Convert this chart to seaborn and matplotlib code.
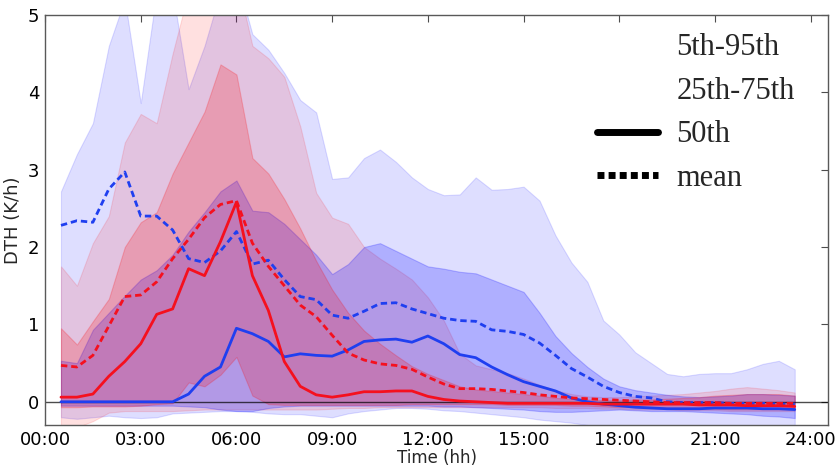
import numpy as np
import pandas as pd
import matplotlib
matplotlib.use("Agg")
import matplotlib.pyplot as plt
import seaborn as sns
from matplotlib.lines import Line2D
from matplotlib.patches import Patch

# half-hourly profile, 00:30 .. 23:30
hours = np.arange(0.5, 23.75, 0.5)
tick_hours = [0, 3, 6, 9, 12, 15, 18, 21, 24]
tick_labels = ["00:00", "03:00", "06:00", "09:00", "12:00", "15:00", "18:00", "21:00", "24:00"]

# blue case
blue_p95 = [2.72, 3.2, 3.6, 4.6, 5.2, 3.86, 5.3, 5.3, 4.04, 4.6,
            5.3, 5.5, 4.75, 4.55, 4.25, 3.9, 3.74, 2.88, 2.9, 3.15,
            3.26, 3.1, 2.9, 2.75, 2.67, 2.68, 2.9, 2.74, 2.75, 2.78,
            2.6, 2.15, 1.8, 1.55, 1.05, 0.87, 0.64, 0.5, 0.36, 0.33,
            0.36, 0.37, 0.37, 0.42, 0.49, 0.53, 0.42]
blue_p75 = [0.53, 0.5, 0.93, 1.15, 1.37, 1.58, 1.7, 1.9, 2.2, 2.45,
            2.72, 2.86, 2.47, 2.45, 2.3, 2.1, 1.9, 1.65, 1.78, 2.0,
            2.05, 1.95, 1.85, 1.75, 1.72, 1.68, 1.66, 1.58, 1.5, 1.42,
            1.15, 0.85, 0.63, 0.45, 0.3, 0.2, 0.15, 0.12, 0.09, 0.07,
            0.06, 0.07, 0.08, 0.1, 0.1, 0.09, 0.08]
blue_p25 = [-0.05, -0.05, -0.05, -0.05, -0.05, -0.05, -0.05, -0.05, -0.06, -0.07,
            -0.1, -0.12, -0.12, -0.08, -0.06, -0.05, -0.05, -0.05, -0.05, -0.05,
            -0.05, -0.05, -0.05, -0.05, -0.06, -0.06, -0.07, -0.08, -0.09, -0.1,
            -0.12, -0.13, -0.13, -0.12, -0.11, -0.1, -0.11, -0.12, -0.12, -0.12,
            -0.13, -0.14, -0.15, -0.16, -0.18, -0.19, -0.21]
blue_p5 = [-0.2, -0.22, -0.2, -0.18, -0.2, -0.21, -0.2, -0.15, -0.14, -0.13,
           -0.12, -0.12, -0.13, -0.15, -0.16, -0.16, -0.18, -0.2, -0.15, -0.12,
           -0.1, -0.08, -0.08, -0.09, -0.11, -0.12, -0.14, -0.16, -0.18, -0.2,
           -0.23, -0.25, -0.27, -0.3, -0.33, -0.35, -0.36, -0.36, -0.36, -0.36,
           -0.36, -0.36, -0.36, -0.36, -0.36, -0.36, -0.36]
blue_p50 = [0.0, 0.0, 0.0, 0.0, 0.0, 0.0, 0.0, 0.0, 0.1, 0.33,
            0.45, 0.95, 0.88, 0.78, 0.58, 0.62, 0.6, 0.59, 0.67, 0.78,
            0.8, 0.81, 0.77, 0.85, 0.75, 0.61, 0.57, 0.45, 0.35, 0.26,
            0.2, 0.14, 0.05, 0.0, -0.03, -0.05, -0.07, -0.08, -0.09, -0.09,
            -0.09, -0.08, -0.08, -0.08, -0.09, -0.09, -0.1]
blue_mean = [2.28, 2.34, 2.32, 2.75, 2.97, 2.4, 2.4, 2.22, 1.85, 1.8,
             1.95, 2.2, 1.78, 1.83, 1.58, 1.36, 1.32, 1.12, 1.08, 1.17,
             1.27, 1.28, 1.2, 1.14, 1.08, 1.05, 1.04, 0.93, 0.91, 0.87,
             0.76, 0.6, 0.43, 0.32, 0.2, 0.12, 0.07, 0.05, 0.0, -0.01,
             -0.01, -0.01, -0.02, -0.02, -0.02, -0.03, -0.03]

# red case
red_p95 = [1.75, 1.5, 2.05, 2.4, 3.35, 3.72, 3.6, 4.5, 5.3, 5.5,
           5.5, 5.5, 4.6, 4.44, 4.2, 3.56, 2.7, 2.38, 2.3, 2.0,
           1.85, 1.72, 1.58, 1.35, 1.05, 0.62, 0.47, 0.42, 0.37, 0.3,
           0.22, 0.15, 0.1, 0.07, 0.06, 0.06, 0.07, 0.08, 0.09, 0.1,
           0.12, 0.14, 0.17, 0.19, 0.17, 0.15, 0.12]
red_p75 = [0.95, 0.74, 1.04, 1.33, 2.0, 2.32, 2.45, 2.95, 3.35, 3.75,
           4.36, 4.23, 3.15, 2.95, 2.62, 2.24, 1.82, 1.45, 1.15, 0.92,
           0.75, 0.6, 0.46, 0.36, 0.28, 0.2, 0.16, 0.14, 0.12, 0.1,
           0.08, 0.05, 0.04, 0.03, 0.02, 0.02, 0.03, 0.03, 0.04, 0.05,
           0.06, 0.08, 0.09, 0.1, 0.1, 0.1, 0.08]
red_p25 = [-0.07, -0.07, -0.06, -0.06, -0.06, -0.05, -0.03, -0.02, 0.25, 0.2,
           0.35, 0.58, 0.08, -0.03, -0.04, -0.04, -0.04, -0.04, -0.04, -0.04,
           -0.04, -0.04, -0.03, -0.03, -0.03, -0.03, -0.03, -0.03, -0.04, -0.04,
           -0.04, -0.04, -0.05, -0.05, -0.06, -0.07, -0.07, -0.08, -0.08, -0.08,
           -0.09, -0.09, -0.1, -0.1, -0.1, -0.1, -0.1]
red_p5 = [-0.35, -0.33, -0.25, -0.14, -0.12, -0.12, -0.12, -0.12, -0.11, -0.1,
          -0.1, -0.1, -0.1, -0.1, -0.1, -0.1, -0.1, -0.09, -0.08, -0.08,
          -0.07, -0.07, -0.07, -0.07, -0.07, -0.07, -0.07, -0.07, -0.07, -0.07,
          -0.07, -0.08, -0.08, -0.08, -0.09, -0.09, -0.1, -0.1, -0.1, -0.11,
          -0.11, -0.11, -0.12, -0.12, -0.12, -0.12, -0.12]
red_p50 = [0.06, 0.06, 0.1, 0.33, 0.52, 0.75, 1.13, 1.2, 1.72, 1.63,
           2.07, 2.58, 1.63, 1.18, 0.52, 0.2, 0.09, 0.06, 0.09, 0.13,
           0.13, 0.14, 0.14, 0.07, 0.03, 0.01, 0.0, -0.01, -0.02, -0.02,
           -0.02, -0.02, -0.02, -0.02, -0.03, -0.03, -0.03, -0.03, -0.03, -0.03,
           -0.04, -0.04, -0.04, -0.05, -0.05, -0.05, -0.06]
red_mean = [0.47, 0.45, 0.6, 0.98, 1.36, 1.38, 1.55, 1.85, 2.1, 2.38,
            2.55, 2.6, 2.05, 1.75, 1.5, 1.25, 1.1, 0.86, 0.63, 0.54,
            0.49, 0.47, 0.42, 0.32, 0.23, 0.17, 0.17, 0.16, 0.14, 0.12,
            0.09, 0.07, 0.05, 0.04, 0.03, 0.02, 0.01, 0.0, -0.01, -0.01,
            -0.01, -0.01, -0.02, -0.02, -0.02, -0.02, -0.02]

df = pd.DataFrame({"hour": hours,
                   "blue_p50": blue_p50, "blue_mean": blue_mean,
                   "red_p50": red_p50, "red_mean": red_mean})

sns.set_style("white")
plt.rcParams["font.family"] = ["DejaVu Sans"]

blue = "#1f3ff0"
red = "#f5101e"
dash = (0, (2.3, 1.4))

fig, ax = plt.subplots(figsize=(8.4, 4.65), dpi=100)
fig.subplots_adjust(left=0.0536, right=0.986, top=0.968, bottom=0.086)

# percentile bands
ax.fill_between(hours, blue_p5, blue_p95, color="#0000ff", alpha=0.13, lw=0.8)
ax.fill_between(hours, red_p5, red_p95, color="#ff0000", alpha=0.12, lw=0.8)
ax.fill_between(hours, blue_p25, blue_p75, color="#0000ff", alpha=0.21, lw=0.8)
ax.fill_between(hours, red_p25, red_p75, color="#ff0000", alpha=0.2, lw=0.8)

ax.axhline(0, color="k", lw=1, alpha=0.7)

sns.lineplot(data=df, x="hour", y="blue_p50", ax=ax, color=blue, lw=2, legend=False)
sns.lineplot(data=df, x="hour", y="blue_mean", ax=ax, color=blue, lw=2, linestyle=dash, legend=False)
sns.lineplot(data=df, x="hour", y="red_mean", ax=ax, color=red, lw=2, linestyle=dash, legend=False)
sns.lineplot(data=df, x="hour", y="red_p50", ax=ax, color=red, lw=2, legend=False)

ax.set_xlim(0, 24.55)
ax.set_ylim(-0.3, 5)
ax.set_xticks(tick_hours)
ax.set_xticklabels(tick_labels)
ax.set_yticks([0, 1, 2, 3, 4, 5])
ax.tick_params(direction="in", top=True, right=True, length=5, width=0.8,
               labelsize=13, colors="0.3", labelcolor="black", pad=4)
for s in ax.spines.values():
    s.set_color("0.35")
    s.set_linewidth(1)

ax.set_xlabel("Time (hh)", fontsize=12, labelpad=0)
ax.set_ylabel("DTH (K/h)", fontsize=13, labelpad=4)

handles = [Patch(facecolor="none", edgecolor="none"),
           Patch(facecolor="none", edgecolor="none"),
           Line2D([], [], color="black", lw=5),
           Line2D([], [], color="black", lw=5, linestyle=(0, (1.0, 0.6)))]
labels = ["5th-95th", "25th-75th", "50th", "mean"]
ax.legend(handles, labels, loc="upper left", bbox_to_anchor=(597 / 840, 1 - 33 / 465),
          bbox_transform=fig.transFigure, frameon=False, borderpad=0, borderaxespad=0,
          handlelength=2.0, handletextpad=0.6, labelspacing=0.48,
          prop={"family": "Liberation Serif", "size": 22})

fig.savefig("out.png", dpi=100)
